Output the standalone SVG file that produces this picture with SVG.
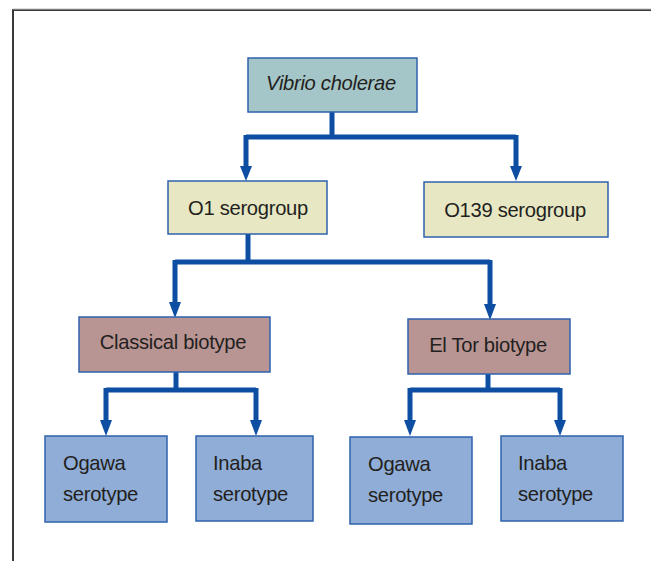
<svg xmlns="http://www.w3.org/2000/svg" width="651" height="561" viewBox="0 0 651 561">
<defs>
<style>
.box{stroke:#2f62ad;stroke-width:1.5}
.t{font-family:"Liberation Sans",Arial,sans-serif;font-size:20.2px;fill:#231f20;letter-spacing:-0.3px}
.c{fill:none;stroke:#0d4ea3;stroke-width:5}
.a{fill:#0d4ea3}
</style>
</defs>
<rect width="651" height="561" fill="#ffffff"/>
<path d="M13,561 V10 H651" fill="none" stroke="#3a3a3a" stroke-width="2"/>
<path d="M13,9 H651" stroke="#bdbdbd" stroke-width="1"/>
<g id="connectors">
<path class="c" d="M332,112 V137 M246,137 H516 M246,135 V170 M516,135 V170"/>
<path class="a" d="M240,166 H252 L246,181 Z M510,166 H522 L516,181 Z"/>
<path class="c" d="M248,234 V262 M175,262 H490 M175,260 V306 M490,260 V308"/>
<path class="a" d="M169,302 H181 L175,318 Z M484,304 H496 L490,320 Z"/>
<path class="c" d="M176,372 V390 M106,390 H256 M106,388 V424 M256,388 V424"/>
<path class="a" d="M100,420 H112 L106,436 Z M250,420 H262 L256,436 Z"/>
<path class="c" d="M488,374 V390 M410,390 H560 M410,388 V424 M560,388 V424"/>
<path class="a" d="M404,420 H416 L410,436 Z M554,420 H566 L560,436 Z"/>
</g>
<g id="vibrio">
<rect class="box" x="248" y="58" width="169" height="54" fill="#a5c6c8"/>
<text class="t" x="331" y="90" text-anchor="middle" font-style="italic">Vibrio cholerae</text>
</g>
<g id="o1">
<rect class="box" x="168" y="181" width="159" height="53" fill="#e7e8c3"/>
<text class="t" x="248" y="215" text-anchor="middle">O1 serogroup</text>
</g>
<g id="o139">
<rect class="box" x="424" y="182" width="184" height="55" fill="#e7e8c3"/>
<text class="t" x="515" y="217" text-anchor="middle">O139 serogroup</text>
</g>
<g id="classical">
<rect class="box" x="79" y="317" width="191" height="55" fill="#b89593"/>
<text class="t" x="173" y="349" text-anchor="middle">Classical biotype</text>
</g>
<g id="eltor">
<rect class="box" x="408" y="319" width="162" height="55" fill="#b89593"/>
<text class="t" x="488" y="352" text-anchor="middle">El Tor biotype</text>
</g>
<g id="ogawa1">
<rect class="box" x="45" y="436" width="122" height="86" fill="#8fadd6"/>
<text class="t" x="63" y="470">Ogawa</text>
<text class="t" x="63" y="501">serotype</text>
</g>
<g id="inaba1">
<rect class="box" x="196" y="436" width="117" height="85" fill="#8fadd6"/>
<text class="t" x="213" y="470">Inaba</text>
<text class="t" x="213" y="501">serotype</text>
</g>
<g id="ogawa2">
<rect class="box" x="350" y="437" width="122" height="87" fill="#8fadd6"/>
<text class="t" x="368" y="471">Ogawa</text>
<text class="t" x="368" y="502">serotype</text>
</g>
<g id="inaba2">
<rect class="box" x="501" y="436" width="122" height="85" fill="#8fadd6"/>
<text class="t" x="518" y="470">Inaba</text>
<text class="t" x="518" y="501">serotype</text>
</g>
</svg>
